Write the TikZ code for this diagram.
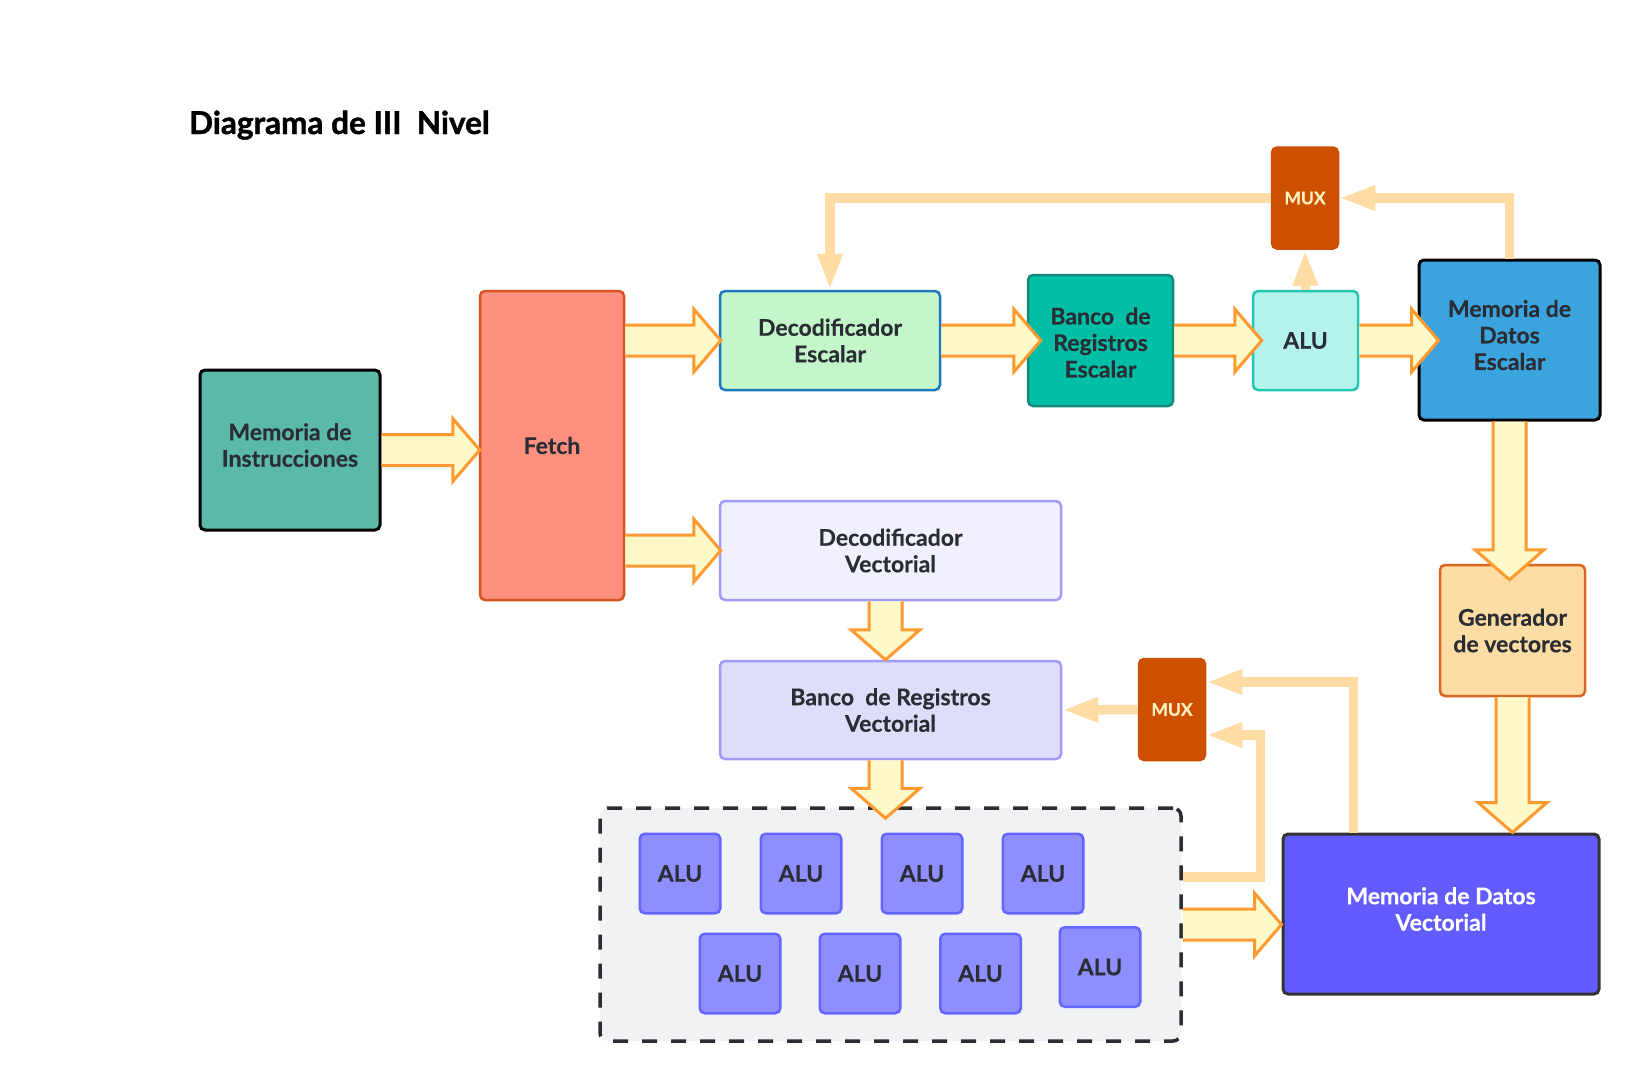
\documentclass[tikz,border=0pt]{standalone}
\usepackage{fontspec}
\setmainfont{Lato}[BoldFeatures={FakeBold=0.35}]
\newfontfamily\titlefont{Lato}[BoldFeatures={FakeBold=1.4}]
\usetikzlibrary{arrows.meta,calc}
\definecolor{txt}{HTML}{2B2D35}
\definecolor{meminstfill}{HTML}{5BBAA7}
\definecolor{fetchfill}{HTML}{FF8F7E}
\definecolor{fetchdraw}{HTML}{D9541E}
\definecolor{decescfill}{HTML}{C3F6C8}
\definecolor{decescdraw}{HTML}{1F78BE}
\definecolor{bancoescfill}{HTML}{00BFA6}
\definecolor{bancoescdraw}{HTML}{138A77}
\definecolor{alufill}{HTML}{B4F3EC}
\definecolor{aludraw}{HTML}{22C7B1}
\definecolor{memescfill}{HTML}{3BA4DE}
\definecolor{muxfill}{HTML}{CC5000}
\definecolor{muxtext}{HTML}{FFF2C0}
\definecolor{decvecfill}{HTML}{F1F1FD}
\definecolor{vecdraw}{HTML}{A09CF8}
\definecolor{bancovecfill}{HTML}{DEDEFB}
\definecolor{genfill}{HTML}{FEDDA5}
\definecolor{gendraw}{HTML}{D9661E}
\definecolor{memvecfill}{HTML}{625CFF}
\definecolor{memvecdraw}{HTML}{333333}
\definecolor{alusfill}{HTML}{8E8EFF}
\definecolor{alusdraw}{HTML}{6565FF}
\definecolor{contfill}{HTML}{F1F2F4}
\definecolor{contdraw}{HTML}{2B2D33}
\definecolor{barrowfill}{HTML}{FDF9C9}
\definecolor{barrowdraw}{HTML}{FF9A30}
\definecolor{fbcol}{HTML}{FEDCA4}
\newcommand\harr[3][0]{\filldraw[barrow] let \p1=(#2), \p2=(#3) in
  (\x1,\y1+15.5pt) -- (\x2+#1pt-27pt,\y1+15.5pt) -- (\x2+#1pt-27pt,\y1+31.5pt) --
  (\x2+#1pt,\y1) -- (\x2+#1pt-27pt,\y1-31.5pt) -- (\x2+#1pt-27pt,\y1-15.5pt) -- (\x1,\y1-15.5pt);}
\newcommand\varr[3][0]{\filldraw[barrow] let \p1=(#2), \p2=(#3) in
  (\x1+16.5pt,\y1) -- (\x1+16.5pt,\y2-#1pt+30pt) -- (\x1+34.5pt,\y2-#1pt+30pt) --
  (\x1,\y2-#1pt) -- (\x1-34.5pt,\y2-#1pt+30pt) -- (\x1-16.5pt,\y2-#1pt+30pt) -- (\x1-16.5pt,\y1);}
\begin{document}
\begin{tikzpicture}[x=1pt,y=-1pt,
  boxtext/.style={inner sep=0pt, align=center, text=txt, font=\fontsize{23}{26.5}\selectfont\bfseries},
  box/.style={boxtext, rounded corners=5pt, line width=2.5pt},
  muxbox/.style={box, fill=muxfill, draw=muxfill, text=muxtext,
    minimum width=66pt, minimum height=101pt, font=\fontsize{17.5}{20}\selectfont\bfseries},
  alubox/.style={box, fill=alusfill, draw=alusdraw, minimum width=80.5pt, minimum height=79.5pt},
  barrow/.style={fill=barrowfill, draw=barrowdraw, line width=3pt, line join=miter},
  fb/.style={draw=fbcol, line width=9.5pt, line join=miter,
    -{Triangle[width=23pt,length=36pt]}}]
\useasboundingbox (0,0) rectangle (1640,1080);
\fill[white] (0,0) rectangle (1640,1080);

\node[anchor=base west, inner sep=0pt, font=\titlefont\fontsize{31.5}{36}\selectfont\bfseries, text=black] (title) at (189,134) {Diagrama de III~ Nivel};

\node[box, fill=meminstfill, draw=black, line width=3pt, minimum width=180pt, minimum height=160pt] (meminst) at (290,450) {};
\node[boxtext] (meminst-t) at ($(meminst.center)+(0,-5)$) {Memoria de\\Instrucciones};
\node[box, fill=fetchfill, draw=fetchdraw, minimum width=144pt, minimum height=309pt] (fetch) at (552,445.5) {Fetch};
\node[box, fill=decescfill, draw=decescdraw, minimum width=220pt, minimum height=99pt] (decesc) at (830,340.5) {Decodificador\\Escalar};
\node[box, fill=bancoescfill, draw=bancoescdraw, minimum width=145pt, minimum height=131pt] (bancoesc) at (1100.5,340.5) {};
\node[boxtext] (bancoesc-t) at ($(bancoesc.center)+(0,2)$) {Banco~ de\\Registros\\Escalar};
\node[box, fill=alufill, draw=aludraw, minimum width=105pt, minimum height=99pt] (alu) at (1305.5,340.5) {ALU};
\node[box, fill=memescfill, draw=black, line width=3pt, minimum width=181pt, minimum height=160pt] (memesc) at (1509.5,340) {};
\node[boxtext] (memesc-t) at ($(memesc.center)+(0,-5)$) {Memoria de\\Datos\\Escalar};
\node[muxbox] (mux1) at (1305,198) {MUX};
\node[box, fill=decvecfill, draw=vecdraw, minimum width=341pt, minimum height=99pt] (decvec) at (890.5,550.5) {Decodificador\\Vectorial};
\node[box, fill=bancovecfill, draw=vecdraw, minimum width=341pt, minimum height=98pt] (bancovec) at (890.5,710) {Banco~ de Registros\\Vectorial};
\node[muxbox] (mux2) at (1172,709.5) {MUX};
\node[box, fill=genfill, draw=gendraw, minimum width=145pt, minimum height=131pt] (gen) at (1512.5,630.5) {Generador\\de vectores};
\node[box, fill=memvecfill, draw=memvecdraw, line width=3pt, minimum width=316pt, minimum height=160pt] (memvec) at (1441,914) {};
\node[boxtext, text=white] (memvec-t) at ($(memvec.center)+(0,-5)$) {Memoria de Datos\\Vectorial};

\node[rounded corners=8pt, fill=contfill, draw=contdraw, line width=3.5pt, dash pattern=on 15pt off 14pt,
  minimum width=581pt, minimum height=233pt, inner sep=0pt] (cont) at (890.5,924.5) {};
\node[alubox] (a1) at (680,873.5) {ALU};
\node[alubox] (a2) at (801,873.5) {ALU};
\node[alubox] (a3) at (922,873.5) {ALU};
\node[alubox] (a4) at (1043,873.5) {ALU};
\node[alubox] (a5) at (740,973.5) {ALU};
\node[alubox] (a6) at (860,973.5) {ALU};
\node[alubox] (a7) at (980.5,973.5) {ALU};
\node[alubox] (a8) at (1100,967) {ALU};

% block arrows
\harr[1]{meminst.east}{fetch.west}
\harr[2]{fetch.east |- decesc.west}{decesc.west}
\harr[2]{fetch.east |- decvec.west}{decvec.west}
\harr[14]{decesc.east}{bancoesc.west}
\harr[10]{bancoesc.east}{alu.west}
\harr[21]{alu.east}{memesc.west}
\harr[0]{cont.east}{memvec.west}
\varr[16]{memesc.south}{gen.north}
\varr[0]{gen.south}{memvec.north}
\varr[0]{$(decvec.south)+(-5,0)$}{bancovec.north}
\varr[12]{$(bancovec.south)+(-5,0)$}{cont.north}

% feedback arrows
\draw[fb] (mux1.west) -| (decesc.north);
\draw[fb] (alu.north) -- (mux1.south);
\draw[fb] (memesc.north) |- (mux1.east);
\draw[fb] (mux2.west) -- (bancovec.east);
\draw[fb] ($(memvec.north west)+(72,0)$) |- ($(mux2.east)+(0,-27.5)$);
\draw[fb] ($(cont.east)+(0,-47.5)$) -| ($(mux2.east)+(54,25.5)$) -- ($(mux2.east)+(0,25.5)$);
\end{tikzpicture}
\end{document}
